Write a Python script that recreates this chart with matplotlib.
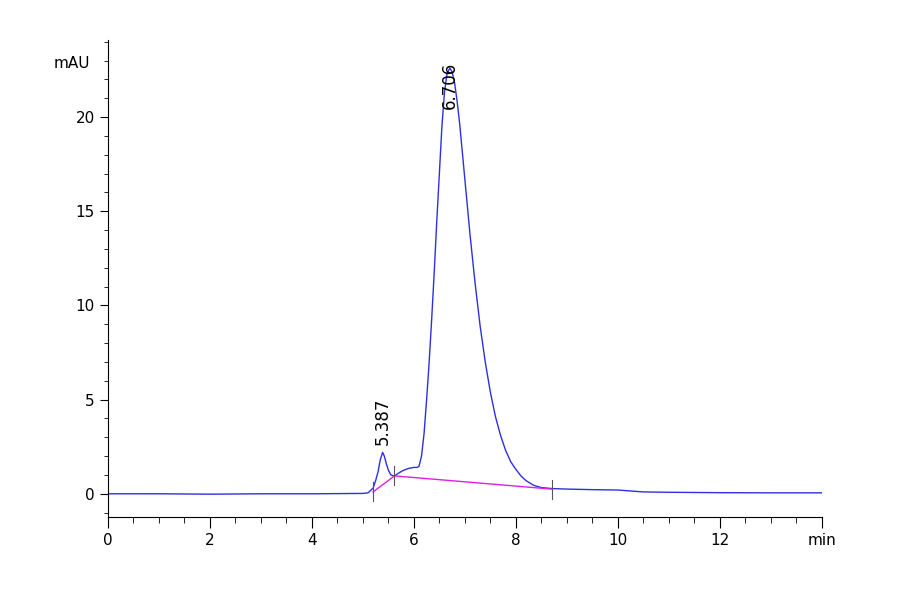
import matplotlib
matplotlib.use("Agg")
import matplotlib.pyplot as plt
from matplotlib.ticker import MultipleLocator

# chromatogram points (min, mAU)
t = [0, 1.0, 2.0, 3.0, 4.0, 5.0, 5.1, 5.2, 5.25, 5.3, 5.34, 5.387, 5.42, 5.46, 5.5, 5.55, 5.6, 5.65,
     5.7, 5.8, 5.9, 6.0, 6.06, 6.1, 6.15, 6.2, 6.25, 6.3, 6.35, 6.4, 6.45, 6.5, 6.55, 6.6, 6.65,
     6.706, 6.75, 6.8, 6.85, 6.9, 7.0, 7.1, 7.2, 7.3, 7.4, 7.5, 7.6, 7.7, 7.8, 7.9, 8.0, 8.1, 8.2,
     8.35, 8.5, 8.7, 9.0, 9.5, 10.0, 10.5, 11.0, 12.0, 13.0, 14.0]
sig = [0, 0.0, -0.02, 0.0, 0.0, 0.02, 0.05, 0.3, 0.7, 1.2, 1.8, 2.2, 2.0, 1.6, 1.25, 1.0, 0.95, 1.0,
       1.1, 1.25, 1.35, 1.4, 1.4, 1.45, 2.0, 3.2, 5.0, 7.0, 9.3, 11.8, 14.5, 17.0, 19.5, 21.3, 22.3,
       22.6, 22.4, 21.8, 20.8, 19.6, 16.7, 13.8, 11.2, 8.9, 7.0, 5.4, 4.1, 3.1, 2.3, 1.7, 1.3, 0.95, 0.7,
       0.45, 0.33, 0.28, 0.25, 0.22, 0.2, 0.1, 0.08, 0.06, 0.05, 0.05]

# integration baseline
base_t = [5.2, 5.62, 8.7]
base_y = [0.1, 0.95, 0.25]

peak_t = [5.387, 6.706]
peak_y = [2.2, 22.6]
peak_lbl = ["5.387", "6.706"]
lbl_off = [0.4, -2.2]

fig = plt.figure(figsize=(9, 5.94), dpi=100)
ax = fig.add_axes([0.12, 0.13, 0.793, 0.803])
ax.plot(t, sig, color="#2f2fe0", lw=1)
ax.plot(base_t, base_y, color="#e020e0", lw=1)
for bt, by in zip(base_t, base_y):
    ax.plot([bt, bt], [by - 0.5, by + 0.5], color="#555555", lw=0.8)
for pt, py, lb, off in zip(peak_t, peak_y, peak_lbl, lbl_off):
    ax.text(pt, py + off, lb, rotation=90, ha="center", va="bottom", fontsize=12)

ax.set_xlim(0, 14)
ax.set_ylim(-1.22, 24.1)
ax.spines["top"].set_visible(False)
ax.spines["right"].set_visible(False)
ax.xaxis.set_major_locator(MultipleLocator(2))
ax.xaxis.set_minor_locator(MultipleLocator(0.5))
ax.yaxis.set_major_locator(MultipleLocator(5))
ax.yaxis.set_minor_locator(MultipleLocator(1))
ax.tick_params(axis="x", which="major", length=8, labelsize=11)
ax.tick_params(axis="x", which="minor", length=4)
ax.tick_params(axis="y", which="major", length=6, labelsize=11)
ax.tick_params(axis="y", which="minor", length=3)
xt = [0, 2, 4, 6, 8, 10, 12, 14]
ax.set_xticks(xt)
ax.set_xticklabels([str(v) for v in xt[:-1]] + ["min"])
ax.set_yticks([0, 5, 10, 15, 20])
ax.text(-0.025, 0.95, "mAU", transform=ax.transAxes, ha="right", va="center", fontsize=11)
fig.savefig("out.png")
